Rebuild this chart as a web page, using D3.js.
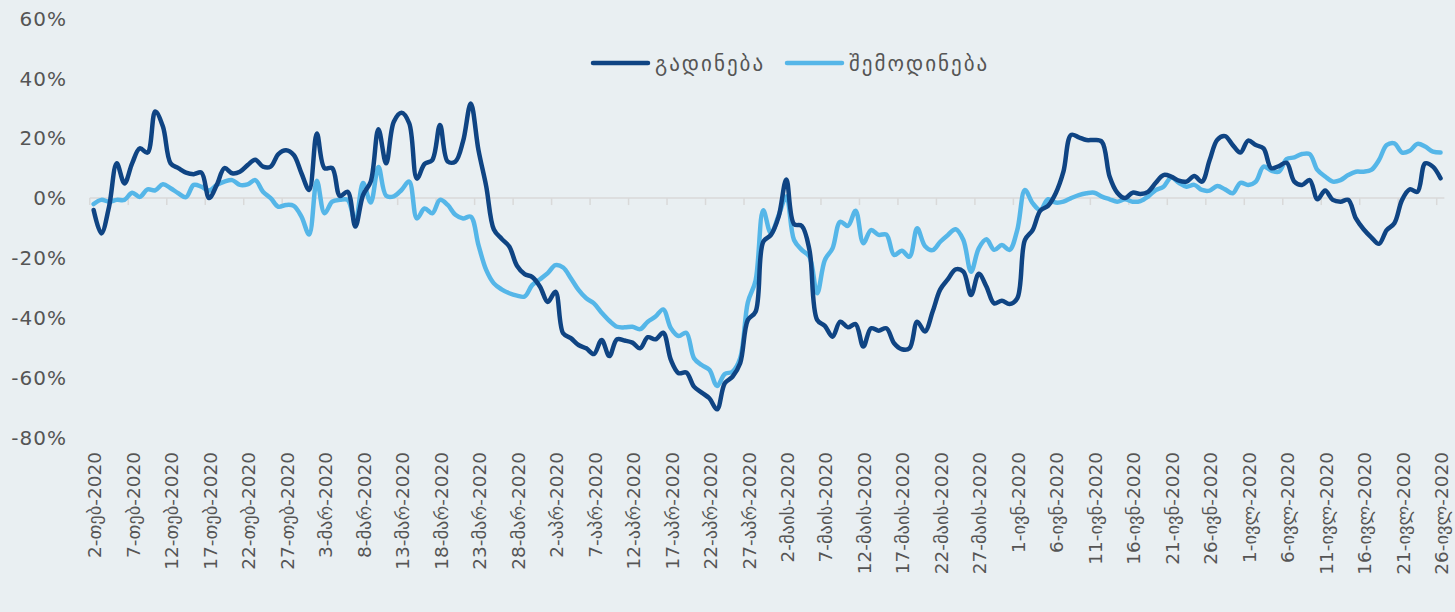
<!DOCTYPE html>
<html>
<head>
<meta charset="utf-8">
<script src="https://cdn.jsdelivr.net/npm/d3@7"></script>
<style>
  html, body { margin: 0; padding: 0; background: #e9eff2; }
  text { font-family: "DejaVu Sans", sans-serif; fill: #555; }
</style>
</head>
<body>
<div id="chart"></div>
<script>
// tick labels, one every 5 days (2 Feb - 26 Jul 2020)
var tickLabels = ["2-თებ-2020","7-თებ-2020","12-თებ-2020","17-თებ-2020","22-თებ-2020","27-თებ-2020",
  "3-მარ-2020","8-მარ-2020","13-მარ-2020","18-მარ-2020","23-მარ-2020","28-მარ-2020",
  "2-აპრ-2020","7-აპრ-2020","12-აპრ-2020","17-აპრ-2020","22-აპრ-2020","27-აპრ-2020",
  "2-მაის-2020","7-მაის-2020","12-მაის-2020","17-მაის-2020","22-მაის-2020","27-მაის-2020",
  "1-ივნ-2020","6-ივნ-2020","11-ივნ-2020","16-ივნ-2020","21-ივნ-2020","26-ივნ-2020",
  "1-ივლ-2020","6-ივლ-2020","11-ივლ-2020","16-ივლ-2020","21-ივლ-2020","26-ივლ-2020"]
var yTicks = [60, 40, 20, 0, -20, -40, -60, -80]
var seriesNames = ["გადინება", "შემოდინება"]

// daily values, %
var outflow = [-4,-11.8,-2.9,11.6,4.9,11.6,16.6,15.2,28.9,23.9,
  11.6,10,8.5,8,8.5,0,4.4,10,8.3,8.8,
  11,12.8,10.5,10.5,14.7,16,14.4,8.3,2.7,21.6,
  10,10,0.7,2.1,-9.5,1,5.5,23,11.6,25.5,
  28.5,25,6.5,11.4,12.7,24.4,12.2,12.2,19,31.6,
  16,4,-10.5,-13.6,-16.2,-22.6,-25.4,-26.4,-29.6,-34.7,
  -31.3,-45.2,-46.8,-49.1,-50.2,-52.1,-47.4,-52.8,-47.2,-47.6,
  -48.3,-50.2,-46.5,-47.2,-45,-54.1,-58.5,-58.3,-63,-65,
  -66.9,-70.6,-61.9,-59.7,-55.2,-40.7,-38,-14.6,-12.3,-6.2,
  6.2,-8.7,-9.3,-17.3,-40.7,-42.7,-46.3,-41.3,-43.2,-42.1,
  -49.6,-43.5,-44.3,-43.5,-48.5,-50.5,-50.2,-41.3,-44.6,-38,
  -30.5,-27.1,-23.8,-24.6,-32.4,-25.3,-29.6,-35.2,-34.3,-35.4,
  -33.5,-14,-10.7,-4.2,-2.6,1.6,8.8,21.1,20.3,19.4,
  19.4,18.8,7.2,1.8,0,1.8,1.4,2.1,5.1,7.7,
  7.2,5.8,5.5,7.4,5.5,12.7,19.5,20.7,17.7,15.2,
  19.2,17.7,16.6,10,10.7,11.8,5.5,4.4,6,-0.4,
  2.5,-0.6,-1.2,-0.6,-6.8,-10.4,-13.1,-15.3,-10.7,-8.4,
  -0.6,2.9,2.1,11.6,10.5,6.6]
var inflow = [-2,-0.6,-1.2,-0.6,-0.6,1.8,0.4,2.9,2.6,4.6,
  3.3,1.6,0.3,4.4,3.8,2.5,4.4,5.5,6,4.4,
  4.6,6,2.1,0,-2.9,-2.3,-2.6,-6.2,-12.2,5.8,
  -5.1,-1.2,-0.6,-0.6,-7.9,5,-1.5,10.4,0.8,0.6,
  2.7,5.5,-6.8,-3.5,-5.1,-0.6,-2.3,-5.6,-6.8,-6.2,
  -15.7,-24,-28.5,-30.5,-31.8,-32.6,-32.9,-29,-27.1,-25.1,
  -22.4,-23.2,-26.8,-30.7,-33.5,-35.2,-38.3,-41,-43,-43.2,
  -43,-43.8,-41.3,-39.6,-37.2,-43.5,-46.1,-45,-53.5,-55.8,
  -57.4,-62.8,-58.8,-58,-53.5,-34.8,-27.6,-4.1,-11.8,-5.8,
  0.5,-14,-17.3,-19.6,-31.8,-20.7,-16.8,-7.9,-9.3,-4.2,
  -15.1,-10.7,-12.3,-12.2,-19,-17.6,-19.6,-10.1,-16,-17.4,
  -14.6,-12.3,-10.4,-14,-24.6,-16.8,-13.8,-17.3,-15.7,-17.3,
  -10.7,2.7,-1.7,-4,-0.4,-1.5,-1.2,0,1,1.6,
  1.8,0.5,-0.4,-1.2,-0.4,-1.2,-1,0.5,2.7,3.8,
  6.9,5.1,3.8,4.4,2.7,2.5,4,2.9,1.6,5.1,
  4.4,5.5,10.5,9.2,8.8,13,13.6,14.7,14.7,9.4,
  7.2,5.5,6,7.7,8.8,8.8,9.4,12.7,17.7,18.3,
  15.2,15.8,18.1,17.2,15.5,15.2]

var colors = ["#0f4483", "#55b6e8"]

var width = 1455, height = 612
var svg = d3.select("#chart").append("svg")
  .attr("width", width).attr("height", height)

var days = d3.range(outflow.length)

var x = d3.scaleBand().domain(days).range([89.8, 1444.4])
var y = d3.scaleLinear().domain([-80, 60]).range([437.5, 18.5])

function cx(i) { return x(i) + x.bandwidth() / 2 }

// zero line and tick marks every 5 days
svg.append("line")
  .attr("x1", x.range()[0]).attr("x2", x.range()[1])
  .attr("y1", y(0)).attr("y2", y(0))
  .attr("stroke", "#d9d9d9").attr("stroke-width", 1.5)

svg.selectAll("line.tick")
  .data(days.filter(function(d) { return d % 5 == 0 }))
  .enter().append("line")
  .attr("class", "tick")
  .attr("x1", function(d) { return x(d) }).attr("x2", function(d) { return x(d) })
  .attr("y1", y(0)).attr("y2", y(0) + 7)
  .attr("stroke", "#d9d9d9").attr("stroke-width", 1.5)

// y labels
svg.selectAll("text.ylab")
  .data(yTicks)
  .enter().append("text")
  .attr("class", "ylab")
  .attr("x", 67)
  .attr("y", function(d) { return y(d) })
  .attr("dy", "0.36em")
  .attr("text-anchor", "end")
  .attr("font-size", "20px")
  .attr("letter-spacing", "1px")
  .text(function(d) { return d + "%" })

// x labels, rotated
svg.selectAll("text.xlab")
  .data(tickLabels)
  .enter().append("text")
  .attr("class", "xlab")
  .attr("transform", function(d, i) { return "translate(" + (cx(i * 5) + 1) + ",452) rotate(-90)" })
  .attr("dy", "0.36em")
  .attr("text-anchor", "end")
  .attr("font-size", "18.5px")
  .text(function(d) { return d })

var line = d3.line()
  .x(function(d, i) { return cx(i) })
  .y(function(d) { return y(d) })
  .curve(d3.curveCatmullRom.alpha(0.5))

;[inflow, outflow].forEach(function(s, k) {
  svg.append("path")
    .datum(s)
    .attr("d", line)
    .attr("fill", "none")
    .attr("stroke", colors[1 - k])
    .attr("stroke-width", 4.5)
    .attr("stroke-linejoin", "round")
    .attr("stroke-linecap", "round")
})

// legend
var legendX = [593, 787]
seriesNames.forEach(function(name, k) {
  svg.append("line")
    .attr("x1", legendX[k]).attr("x2", legendX[k] + 55)
    .attr("y1", 63).attr("y2", 63)
    .attr("stroke", colors[k]).attr("stroke-width", 4.5)
    .attr("stroke-linecap", "round")
  svg.append("text")
    .attr("x", legendX[k] + 62).attr("y", 63)
    .attr("dy", "0.36em")
    .attr("font-size", "21px")
    .attr("letter-spacing", "2px")
    .text(name)
})
</script>
</body>
</html>
